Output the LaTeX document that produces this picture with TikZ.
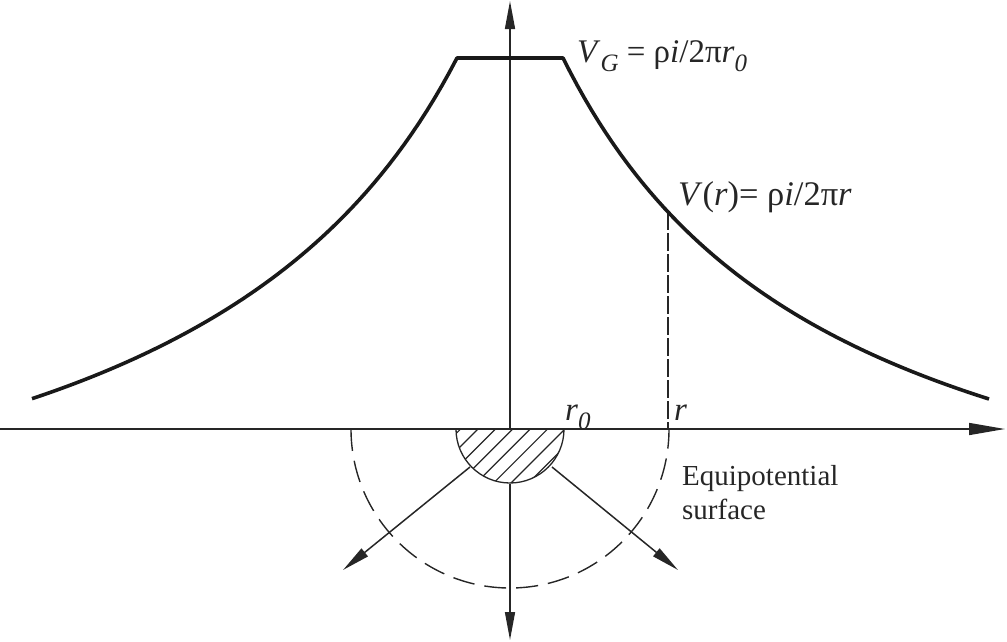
\documentclass[tikz,border=0pt]{standalone}
\usepackage{fontspec}
\setmainfont{Liberation Serif}
\usetikzlibrary{arrows.meta}
\tikzset{
  axisline/.style={line width=1.5pt,draw=black!85},
  tip/.style={-{Triangle[length=28pt,width=10pt]}},
  bigtip/.style={-{Triangle[length=36pt,width=12pt]}},
  curveline/.style={line width=3.6pt,line join=round,draw=black!90},
  dashline/.style={line width=1.4pt,draw=black!85,dash pattern=on 22pt off 10pt},
  thinline/.style={line width=1.3pt,draw=black!85},
  lab/.style={inner sep=0pt,anchor=base west,font=\fontsize{33}{36}\selectfont,text=black!85},
  labb/.style={lab,font=\fontsize{34.5}{36}\selectfont},
  note/.style={inner sep=0pt,anchor=base west,font=\fontsize{29}{32}\selectfont,text=black!85}
}
\newcommand{\subs}[1]{\raisebox{-0.28em}{\fontsize{25}{26}\selectfont\itshape #1}}
\begin{document}
\begin{tikzpicture}[x=1pt,y=-1pt]
\useasboundingbox (0,0) rectangle (1007,641);
\coordinate (O) at (510,429);
\coordinate (xs) at (0,429);
\coordinate (xe) at (1005,429);
\coordinate (ys) at (510,429);
\coordinate (ye) at (510,1);
\coordinate (ds) at (510,484);
\coordinate (de) at (510,640);
\coordinate (ls) at (470,467);
\coordinate (le) at (343,570);
\coordinate (rs) at (552,467);
\coordinate (re) at (678,570);
\coordinate (P) at (668,212);
\coordinate (Q) at (668,429);
% hatching
\begin{scope}
\clip (456,429) arc[start angle=180,end angle=0,radius=54] -- cycle;
\foreach \c in {-1,0,...,7}{
  \draw[line width=1.2pt,draw=black!85] ({565-\c*17.4+40},{429-40}) -- ++(-150,150);
}
\end{scope}
\draw[thinline] (456,429) arc[start angle=180,end angle=0,radius=54];
\draw[dashline] (351,429) arc[start angle=180,end angle=0,radius=159];
% axes
\draw[axisline,bigtip] (xs) -- (xe);
\draw[axisline,tip] (ys) -- (ye);
\draw[axisline,tip] (ds) -- (de);
\draw[axisline,tip] (ls) -- (le);
\draw[axisline,tip] (rs) -- (re);
\draw[line width=1.2pt,draw=black!85,dash pattern=on 18pt off 3pt] (P) -- (Q);
% potential curve
\draw[curveline] plot[domain=478:53,samples=60] ({510-\x-6*sin((\x-53)/425*180)},{429-(1588/(\x+227.7)*100-194.7)})
  -- plot[domain=53:479,samples=60] ({510+\x},{429-(1588/(\x+227.7)*100-194.7)});
% labels
\node[lab] (vg) at (577,62) {\textit{V}\subs{G} = ρ\textit{i}/2π\textit{r}\subs{0}};
\node[labb] (vr) at (678,205) {\textit{V}(\textit{r})= ρ\textit{i}/2π\textit{r}};
\node[lab] (r0) at (565,420) {\textit{r}\subs{0}};
\node[lab] (rl) at (674,420) {\textit{r}};
\node[note] (eq1) at (682,485.5) {Equipotential};
\node[note] (eq2) at (682,519) {surface};
\end{tikzpicture}
\end{document}
